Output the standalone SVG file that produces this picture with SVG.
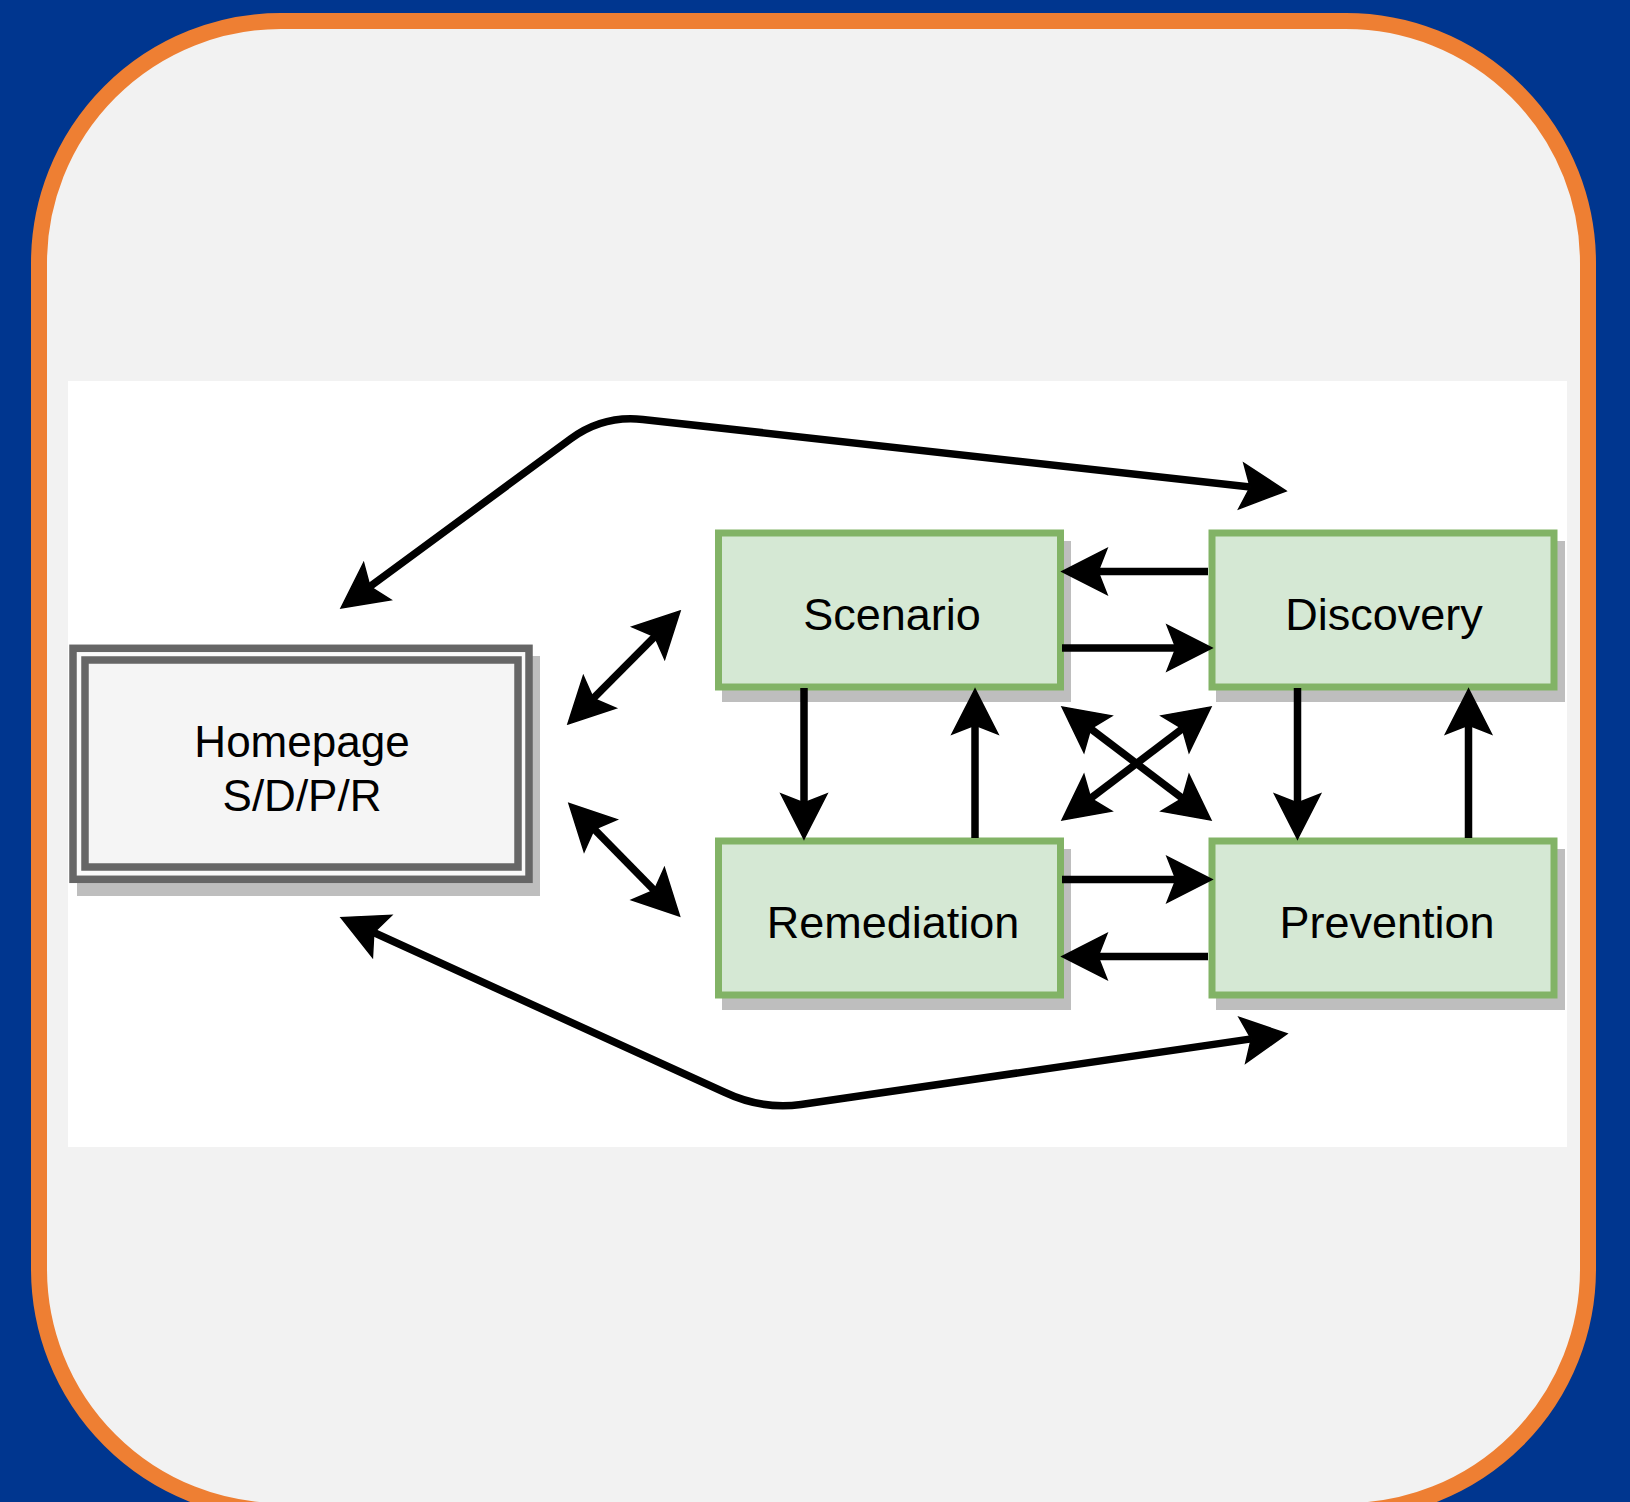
<svg xmlns="http://www.w3.org/2000/svg" width="1630" height="1502" viewBox="0 0 1630 1502">
<defs>
<style>
.lbl{font-family:"Liberation Sans",Arial,Helvetica,sans-serif;font-size:45px;fill:#000;text-anchor:middle}
.box{fill:#D5E8D4;stroke:#82B366;stroke-width:7}
.shadow{fill:#BEBEBE}
.edge{fill:none;stroke:#000;stroke-width:7.5;stroke-linejoin:round}
.one{marker-end:url(#arr)}
.two{marker-start:url(#arr);marker-end:url(#arr)}
</style>
<marker id="arr" markerUnits="userSpaceOnUse" orient="auto-start-reverse" refX="0" refY="0" markerWidth="1" markerHeight="1" overflow="visible">
<path d="M36,0 L-9,-23 L0,0 L-9,23 Z" fill="#000" stroke="#000" stroke-width="1.5" stroke-linejoin="miter"/>
</marker>
</defs>
<rect x="0" y="0" width="1630" height="1502" fill="#00368F"/>
<rect x="39" y="21" width="1549" height="1490" rx="242" ry="242" fill="#F2F2F2" stroke="#EE7F33" stroke-width="16"/>
<rect x="68" y="381" width="1499" height="766" fill="#FFFFFF"/>

<g id="homepage">
<rect class="shadow" x="77" y="656" width="463" height="240"/>
<rect x="73" y="648.3" width="456" height="231" fill="#FAFAFA" stroke="#666666" stroke-width="7.5"/>
<rect x="85" y="660" width="433" height="207" fill="#F5F5F5" stroke="#666666" stroke-width="7.5"/>
<text class="lbl" x="302" y="757" style="font-size:44px">Homepage</text>
<text class="lbl" x="302" y="811" style="font-size:44px">S/D/P/R</text>
</g>

<g id="scenario">
<rect class="shadow" x="722" y="541" width="349" height="161"/>
<rect class="box" x="718.5" y="533" width="342" height="154"/>
<text class="lbl" x="892" y="630">Scenario</text>
</g>

<g id="discovery">
<rect class="shadow" x="1216" y="541" width="349" height="161"/>
<rect class="box" x="1212" y="533" width="342" height="154"/>
<text class="lbl" x="1384" y="630">Discovery</text>
</g>

<g id="remediation">
<rect class="shadow" x="722" y="849" width="349" height="161"/>
<rect class="box" x="718.5" y="841" width="342" height="154"/>
<text class="lbl" x="893" y="938">Remediation</text>
</g>

<g id="prevention">
<rect class="shadow" x="1216" y="849" width="349" height="161"/>
<rect class="box" x="1212" y="841" width="342" height="154"/>
<text class="lbl" x="1387" y="938">Prevention</text>
</g>

<g id="connectors">
<path class="edge one" d="M1208,571.5 L1098,571.5"/>
<path class="edge one" d="M1062,648 L1176,648"/>
<path class="edge one" d="M1062,879.5 L1176,879.5"/>
<path class="edge one" d="M1208,956.5 L1098,956.5"/>
<path class="edge one" d="M804,688 L804,803"/>
<path class="edge one" d="M975,838 L975,725"/>
<path class="edge one" d="M1297.5,688 L1297.5,803"/>
<path class="edge one" d="M1468.5,838 L1468.5,725"/>
<path class="edge two" d="M1090.7,728.7 L1182.3,798.3"/>
<path class="edge two" d="M1182.3,728.7 L1090.7,798.3"/>
<path class="edge two" d="M654.7,636.6 L593.3,698.4"/>
<path class="edge two" d="M594.2,829.2 L654.3,890.3"/>
<path class="edge two" d="M370,586.6 L570.8,438.7 Q603,415 642.8,419.4 L1250.2,487"/>
<path class="edge two" d="M373.8,932.5 L724,1092 Q762,1110 801,1104.5 L1251.3,1038.9"/>
</g>
</svg>
